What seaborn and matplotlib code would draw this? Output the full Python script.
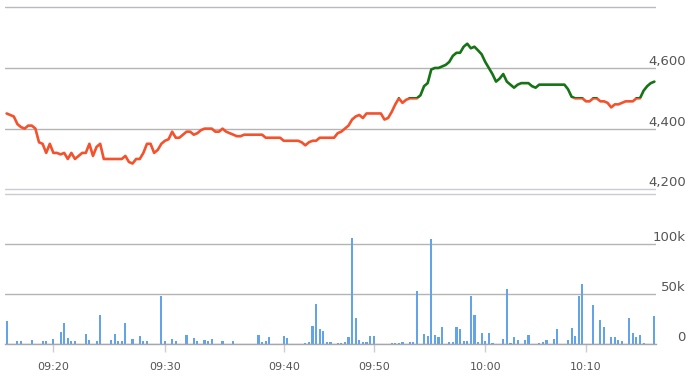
import pandas as pd
import matplotlib
matplotlib.use('Agg')
import matplotlib.pyplot as plt
import seaborn as sns
from matplotlib.patches import Rectangle
from matplotlib.transforms import blended_transform_factory

# previous close: the line is green above it, red below it
prev_close = 4500

# price per time slot (slots are evenly spaced trade intervals)
price = [
    4450, 4445, 4440, 4415, 4405, 4400, 4410, 4410, 4400, 4355,
    4350, 4320, 4350, 4320, 4320, 4315, 4320, 4300, 4320, 4300,
    4310, 4320, 4320, 4350, 4310, 4340, 4350, 4300, 4300, 4300,
    4300, 4300, 4300, 4310, 4290, 4285, 4300, 4300, 4320, 4350,
    4350, 4320, 4330, 4350, 4360, 4365, 4390, 4370, 4370, 4380,
    4390, 4390, 4380, 4385, 4395, 4400, 4400, 4400, 4390, 4390,
    4400, 4390, 4385, 4380, 4375, 4375, 4380, 4380, 4380, 4380,
    4380, 4380, 4370, 4370, 4370, 4370, 4370, 4360, 4360, 4360,
    4360, 4360, 4355, 4345, 4355, 4360, 4360, 4370, 4370, 4370,
    4370, 4370, 4385, 4390, 4400, 4410, 4430, 4440, 4445, 4435,
    4450, 4450, 4450, 4450, 4450, 4430, 4435, 4455, 4480, 4500,
    4485, 4495, 4500, 4500, 4500, 4510, 4540, 4550, 4595, 4600,
    4600, 4605, 4610, 4620, 4640, 4650, 4650, 4670, 4680, 4665,
    4670, 4658, 4645, 4620, 4600, 4580, 4555, 4565, 4580, 4555,
    4545, 4535, 4545, 4550, 4550, 4550, 4540, 4535, 4545, 4545,
    4545, 4545, 4545, 4545, 4545, 4545, 4530, 4505, 4500, 4500,
    4500, 4490, 4490, 4500, 4500, 4490, 4490, 4485, 4470, 4480,
    4480, 4485, 4490, 4490, 4490, 4500, 4500, 4525, 4540, 4550,
    4555,
]

# volume bars: slot and volume in thousands of shares
vol_slot = [
    0, 3, 4, 7, 10, 11, 13, 15, 16, 17, 18, 19, 22, 23, 25, 26, 29, 30, 31, 32,
    33, 35, 37, 38, 39, 43, 44, 46, 47, 50, 52, 53, 55, 56, 57, 60, 63, 70, 71, 72,
    73, 77, 78, 83, 84, 85, 86, 87, 88, 89, 90, 92, 93, 94, 95, 96, 97, 98, 99, 100,
    101, 102, 107, 108, 109, 110, 112, 113, 114, 116, 117, 118, 119, 120, 121, 123, 124, 125, 126, 127,
    128, 129, 130, 131, 132, 133, 134, 135, 138, 139, 140, 141, 142, 144, 145, 148, 149, 150, 152, 153,
    156, 157, 158, 159, 160, 163, 165, 166, 168, 169, 170, 171, 173, 174, 175, 176, 177, 180,
]
vol_k = [
    23.5, 2.7, 2.7, 3.7, 3, 3, 5, 12, 21, 6.4, 2.7, 2.7, 10, 3.7, 2.7, 29, 3.7, 10, 2.7, 2.7,
    21, 5, 7.7, 2.7, 2.7, 48, 2.7, 5, 2.7, 8.7, 6.4, 2.7, 3.7, 2.7, 5, 3, 3.4, 8.7, 2.3, 3.4,
    7.4, 8.4, 5.7, 1, 2.3, 18.5, 40, 15, 13.5, 1.7, 2.3, 1.3, 1.3, 2.3, 7.4, 106, 26, 3.7, 2.3, 2.3,
    8.4, 8.4, 1.3, 1.3, 1.3, 2.3, 2.3, 1.7, 53.5, 10, 8, 105, 9, 6.7, 17, 1.7, 1.7, 17, 15, 3,
    3, 48, 29, 1.7, 11, 3, 11, 1.3, 5, 55, 1.3, 6.7, 4, 4, 8.7, 1.3, 1.7, 4, 5, 15,
    4, 16, 8, 48, 60, 39.5, 24, 17, 7.4, 6.7, 4, 3, 26, 11, 6.7, 9, 1.3, 28.5,
]

time_ticks = [13, 44, 77, 102, 133, 161]
time_labels = ['09:20', '09:30', '09:40', '09:50', '10:00', '10:10']
price_ticks = [4200, 4400, 4600, 4800]
price_labels = ['4,200', '4,400', '4,600', '']
vol_ticks = [0, 50, 100, 150]
vol_labels = ['0', '50k', '100k', '']

red = '#f4512c'
green = '#167316'
bar_blue = '#62a3ea'
grid_gray = '#b4b4b4'
edge_gray = '#cdc8d2'
text_gray = '#555555'

sns.set_theme(style='white')
plt.rcParams['font.family'] = ['DejaVu Sans']

fig = plt.figure(figsize=(7, 3.86), dpi=100)
ax1 = fig.add_axes([5 / 700, 195 / 386, 651 / 700, 185 / 386])
ax2 = fig.add_axes([5 / 700, 42 / 386, 651 / 700, 151.5 / 386])

price_df = pd.DataFrame({'slot': range(len(price)), 'price': price})
vol_df = pd.DataFrame({'slot': vol_slot, 'volume': vol_k})

# same line twice, clipped above / below the previous close
sns.lineplot(data=price_df, x='slot', y='price', ax=ax1, color=red, lw=1.9)
sns.lineplot(data=price_df, x='slot', y='price', ax=ax1, color=green, lw=1.9)
split = blended_transform_factory(ax1.transAxes, ax1.transData)
below = Rectangle((0, 0), 1, prev_close, transform=split)
above = Rectangle((0, prev_close), 1, 10000, transform=split)
ax1.lines[0].set_clip_path(below)
ax1.lines[1].set_clip_path(above)

sns.barplot(data=vol_df, x='slot', y='volume', ax=ax2, native_scale=True,
            orient='x', width=0.6, color=bar_blue, saturation=1,
            errorbar=None, linewidth=0)

ax1.set_ylim(4194.4, 4804.3)
ax2.set_ylim(0, 151.5)

for ax, ticks, labels in [(ax1, price_ticks, price_labels), (ax2, vol_ticks, vol_labels)]:
    ax.set_xlim(-0.45, 180.45)
    ax.set_xlabel('')
    ax.set_ylabel('')
    for s in ax.spines.values():
        s.set_visible(False)
    ax.set_yticks(ticks, labels)
    ax.yaxis.tick_right()
    ax.tick_params(axis='y', length=0, pad=21.6, labelsize=9.5, labelcolor=text_gray)
    for t in ax.get_yticklabels():
        t.set_horizontalalignment('right')
        t.set_verticalalignment('bottom')
    ax.grid(axis='y', color=grid_gray, lw=1)
    ax.grid(axis='x', visible=False)

ax1.get_ygridlines()[0].set_color(edge_gray)
ax1.get_ygridlines()[3].set_color('#bcb8c0')
ax2.get_ygridlines()[3].set_color(edge_gray)

ax1.set_xticks([])

ax2.spines['bottom'].set_visible(True)
ax2.spines['bottom'].set_color('#a6a6ae')
ax2.spines['bottom'].set_linewidth(1)
ax2.set_xticks(time_ticks, time_labels)
ax2.tick_params(axis='x', bottom=True, length=6, width=1, color='#cccccc',
                pad=7, labelsize=8, labelcolor=text_gray)

fig.savefig('out.png', dpi=100, facecolor='white')
